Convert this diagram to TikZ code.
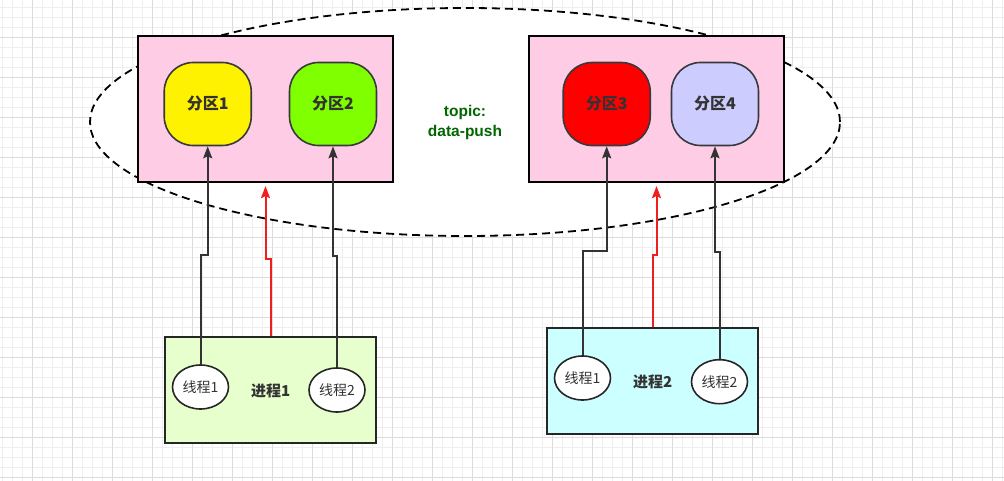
\documentclass[tikz,border=0pt]{standalone}
\usepackage{fontspec}
\setmainfont{Noto Sans CJK SC}
\newfontfamily\latinfont{Liberation Sans}
\usetikzlibrary{shapes.geometric,arrows.meta}
\definecolor{gridminor}{RGB}{238,238,238}
\definecolor{gridmajor}{RGB}{220,220,220}
\definecolor{pinkfill}{RGB}{255,204,230}
\definecolor{greenfill}{RGB}{230,255,204}
\definecolor{cyanfill}{RGB}{204,255,255}
\definecolor{lilac}{RGB}{204,204,255}
\definecolor{lime}{RGB}{128,255,0}
\definecolor{darkline}{RGB}{54,57,61}
\definecolor{txt}{RGB}{51,51,51}
\definecolor{topicgreen}{RGB}{0,102,0}
\definecolor{redline}{RGB}{240,30,30}
\tikzset{
  minorline/.style={draw=gridminor,line width=0.7pt},
  majorline/.style={draw=gridmajor,line width=0.7pt},
  topicellipse/.style={ellipse,draw=black,fill=white,line width=1.8pt,dash pattern=on 8pt off 5pt,inner sep=0pt},
  pinkbox/.style={draw=black,fill=pinkfill,line width=2.2pt,inner sep=0pt},
  partbox/.style={draw=darkline,line width=1.6pt,rounded corners=29pt,minimum width=87pt,minimum height=83pt,inner sep=0pt,font=\bfseries\fontsize{16}{18}\selectfont,text=txt},
  procbox/.style={draw=black!85,line width=1.8pt,inner sep=0pt,minimum width=211pt,minimum height=106pt},
  thread/.style={ellipse,draw=black!85,fill=white,line width=1.6pt,minimum width=56pt,minimum height=44pt,inner sep=0pt,font=\fontsize{14}{16}\selectfont,text=txt},
  blkarrow/.style={draw=txt,line width=2pt,-{Stealth[length=12pt,width=9pt,inset=2pt]}},
  redarrow/.style={draw=redline,line width=2pt,-{Stealth[length=12pt,width=9pt,inset=2pt]}},
}
\begin{document}
\begin{tikzpicture}[x=1pt,y=-1pt]
\useasboundingbox (0,0) rectangle (1004,481);
\fill[white] (0,0) rectangle (1004,481);
\foreach \i in {0,...,100} {\draw[minorline] ({2.5+10*\i},0) -- ({2.5+10*\i},481);}
\foreach \i in {0,...,48} {\draw[minorline] (0,{7+10*\i}) -- (1004,{7+10*\i});}
\foreach \i in {0,...,25} {\draw[majorline] ({32.5+40*\i},0) -- ({32.5+40*\i},481);}
\foreach \i in {0,...,11} {\draw[majorline] (0,{37+40*\i}) -- (1004,{37+40*\i});}

\node[topicellipse,minimum width=750pt,minimum height=228pt] (topic) at (465,122) {};
\node[pinkbox,minimum width=255pt,minimum height=146pt] (b1) at (265.5,109) {};
\node[pinkbox,minimum width=255pt,minimum height=146pt] (b2) at (656.5,109) {};
\node[partbox,fill=yellow] (p1) at (207.7,104) {分区1};
\node[partbox,fill=lime] (p2) at (333,104) {分区2};
\node[partbox,fill=red] (p3) at (606.7,104) {分区3};
\node[partbox,fill=lilac] (p4) at (715,104) {分区4};
\node[align=center,text=topicgreen,font=\latinfont\bfseries\fontsize{15.5}{20}\selectfont] (tlabel) at (465,122) {topic:\\data-push};

\node[procbox,fill=greenfill] (q1) at (270.5,390) {};
\node[procbox,fill=cyanfill] (q2) at (652.5,381) {};
\node[font=\bfseries\fontsize{15}{17}\selectfont,text=txt] (q1label) at (270.7,390.7) {进程1};
\node[font=\bfseries\fontsize{15}{17}\selectfont,text=txt] (q2label) at (652.7,381.7) {进程2};

\node[thread] (t11) at (200.5,387) {线程1};
\node[thread] (t12) at (337,390) {线程2};
\node[thread] (t21) at (582.5,378) {线程1};
\node[thread] (t22) at (719.5,381.7) {线程2};

\draw[blkarrow] (t11.north) -- (t11.north |- 0,255) -- (p1.south |- 0,255) -- (p1.south);
\draw[blkarrow] (t12.north) -- (t12.north |- 0,255.7) -- (p2.south |- 0,255.7) -- (p2.south);
\draw[redarrow] (q1.north) -- (q1.north |- 0,259) -- (b1.south |- 0,259) -- ([yshift=-3pt]b1.south);
\draw[blkarrow] (t21.north) -- (t21.north |- 0,251) -- (p3.south |- 0,251) -- (p3.south);
\draw[blkarrow] (t22.north) -- (t22.north |- 0,252.3) -- (p4.south |- 0,252.3) -- (p4.south);
\draw[redarrow] (q2.north) -- (q2.north |- 0,255) -- (b2.south |- 0,255) -- ([yshift=-3pt]b2.south);
\end{tikzpicture}
\end{document}
